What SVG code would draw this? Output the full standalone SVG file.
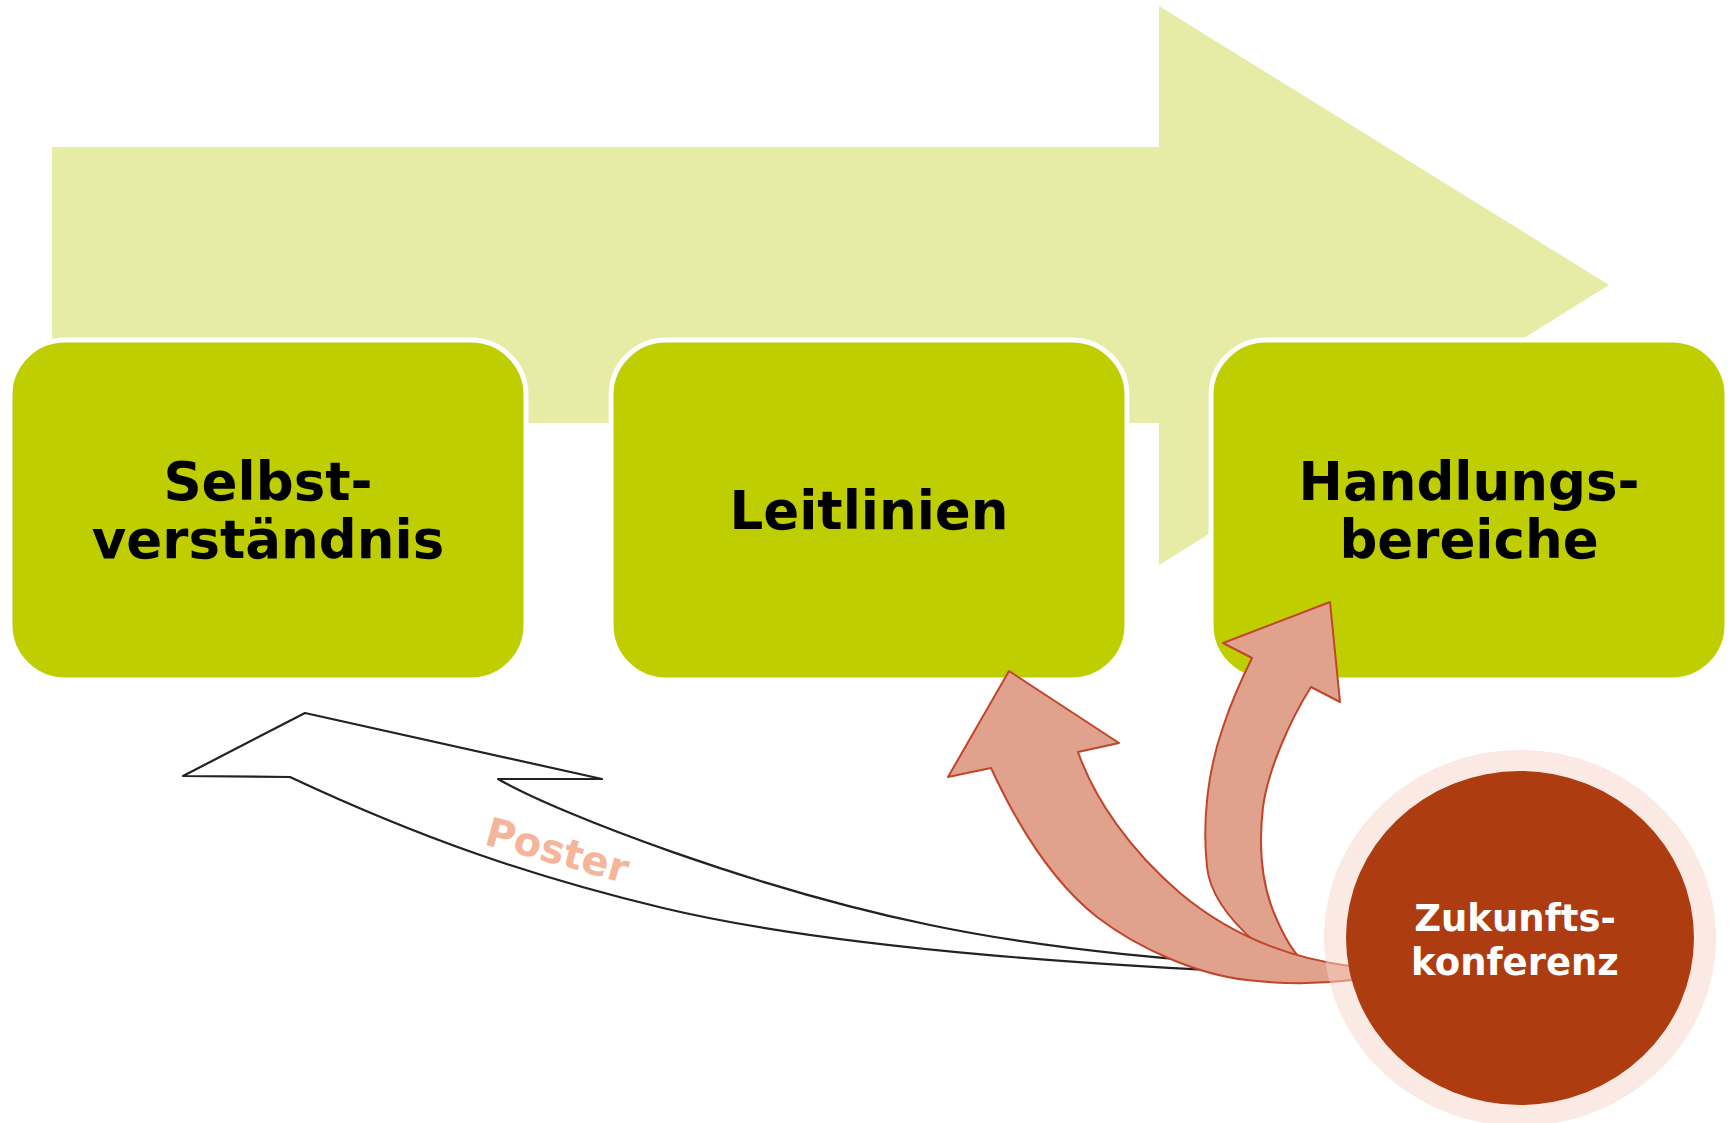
<svg xmlns="http://www.w3.org/2000/svg" width="1733" height="1123" viewBox="0 0 1733 1123">
<style>
.box{fill:#BFCE00;stroke:#FFFFFF;stroke-width:5}
.lbl{font-family:"DejaVu Sans","Verdana",sans-serif;font-weight:bold;font-size:53px;fill:#000;text-anchor:middle}
.clbl{font-family:"DejaVu Sans","Verdana",sans-serif;font-weight:bold;font-size:37px;fill:#FFFFFF;text-anchor:middle}
.red{fill:#E0A18D;stroke:#C0462A;stroke-width:2;stroke-linejoin:round}
</style>
<rect x="0" y="0" width="1733" height="1123" fill="#FFFFFF"/>
<g id="process-arrow">
<polygon points="52,147 1159,147 1159,6 1609,285 1159,565 1159,423 52,423" fill="#E6ECA6"/>
</g>
<g id="node-selbst">
<rect class="box" x="10" y="340" width="516" height="340" rx="55" ry="55"/>
<text class="lbl" x="268" y="500">Selbst-</text>
<text class="lbl" x="268" y="558">verständnis</text>
</g>
<g id="node-leitlinien">
<rect class="box" x="611" y="340" width="516" height="340" rx="55" ry="55"/>
<text class="lbl" x="869" y="529">Leitlinien</text>
</g>
<g id="node-handlung">
<rect class="box" x="1211" y="340" width="516" height="340" rx="55" ry="55"/>
<text class="lbl" x="1469" y="500">Handlungs-</text>
<text class="lbl" x="1469" y="558">bereiche</text>
</g>
<g id="connectors">
<path id="poster-arrow" d="M183,776 L305,713 L602,779 L498,779 C560,815 760,890 930,925 C1050,950 1200,964 1310,966 L1320,975 C1120,967 843,951 663,908 C533,877 420,838 290,777 Z" fill="#FFFFFF" stroke="#222222" stroke-width="2.2" stroke-linejoin="round"/>
<text x="0" y="0" transform="translate(483,844) rotate(15.5)" font-family="DejaVu Sans, Verdana, sans-serif" font-weight="bold" font-size="40" fill="#F4B59A">Poster</text>
<path class="red" d="M1330,602 L1340,702 L1311,687 C1290,720 1268,770 1263,807 C1258,850 1263,890 1277,920 C1285,938 1292,950 1300,958 L1255,942 C1230,920 1210,895 1207,867 C1202,820 1208,770 1223,727 C1232,700 1242,678 1252,658 L1223,643 Z"/>
<path class="red" d="M1009,671 L1119,743 L1078,752 C1095,800 1130,850 1180,893 C1230,935 1290,958 1350,966 L1352,980 C1320,984 1280,984 1247,980 C1200,975 1140,950 1097,917 C1050,880 1015,820 991,768 L948,777 Z"/>
</g>
<g id="node-zukunft">
<ellipse cx="1520" cy="938" rx="196" ry="188" fill="#F7D5C7" fill-opacity="0.5"/>
<ellipse cx="1520" cy="938" rx="174" ry="167" fill="#AD3C11"/>
<text class="clbl" x="1515" y="931">Zukunfts-</text>
<text class="clbl" x="1515" y="975">konferenz</text>
</g>
</svg>
